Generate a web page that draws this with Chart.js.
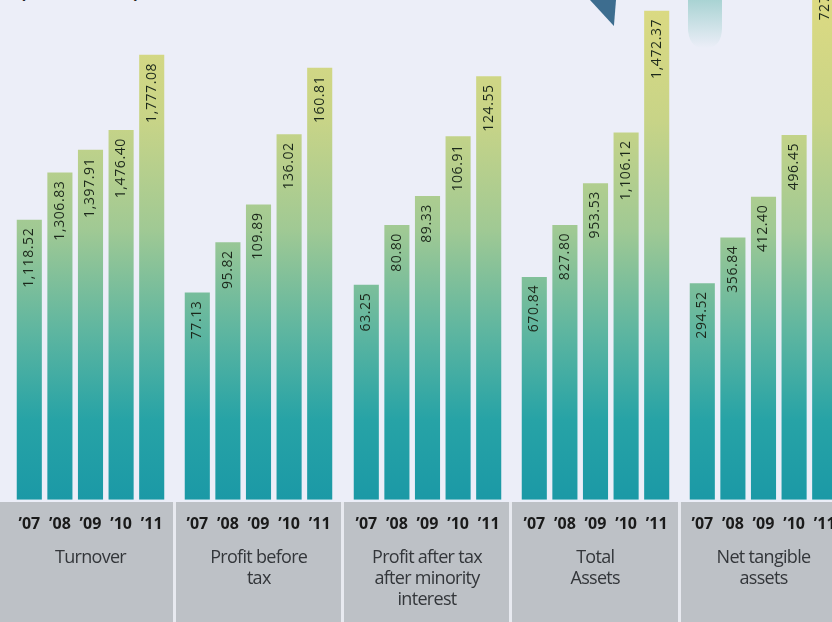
<!DOCTYPE html>
<html>
<head>
<meta charset="utf-8">
<script src="https://cdn.jsdelivr.net/npm/chart.js@4.4.1/dist/chart.umd.min.js"></script>
<style>
  html, body { margin: 0; padding: 0; }
  body { width: 832px; height: 622px; overflow: hidden; position: relative; background: #eceef8; font-family: "Open Sans", sans-serif; }
  .unit { position: absolute; left: 18px; top: -33px; font-size: 28px; color: #222; }
  .wedge { position: absolute; left: 590px; top: 0; width: 26px; height: 26px; background: #3d6d8f; clip-path: polygon(0 0, 100% 0, 92% 100%); }
  .blob { position: absolute; left: 688px; top: 0; width: 34px; height: 48px; background: linear-gradient(#a9d3d3, rgba(200,230,230,0)); border-radius: 0 0 40% 40%; }
  .band { position: absolute; left: 0; top: 502px; width: 832px; height: 120px; background: #bdc1c6; }
  .sep { position: absolute; top: 502px; width: 3px; height: 120px; background: #e8eaf0; }
  .box { position: absolute; top: 0; width: 153px; height: 622px; }
  .name { position: absolute; top: 546px; width: 170px; text-align: center; font-size: 18px; line-height: 21px; color: #33363a; letter-spacing: -0.7px; }
</style>
</head>
<body>
<div class="unit">(Rs crore)</div>
<div class="wedge"></div>
<div class="blob"></div>
<div class="band"></div>
<div class="sep" style="left:173px"></div>
<div class="sep" style="left:341px"></div>
<div class="sep" style="left:509px"></div>
<div class="sep" style="left:678px"></div>
<div id="groups"></div>

<script>
// data (Rs crore)
const years = ['\u201907', '\u201908', '\u201909', '\u201910', '\u201911'];
const groupNames = [
  ['Turnover'],
  ['Profit before', 'tax'],
  ['Profit after tax', 'after minority', 'interest'],
  ['Total', 'Assets'],
  ['Net tangible', 'assets']
];
const turnover = [1118.52, 1306.83, 1397.91, 1476.40, 1777.08];
const profitBeforeTax = [77.13, 95.82, 109.89, 136.02, 160.81];
const profitAfterTax = [63.25, 80.80, 89.33, 106.91, 124.55];
const totalAssets = [670.84, 827.80, 953.53, 1106.12, 1472.37];
const netTangibleAssets = [294.52, 356.84, 412.40, 496.45, 727.36];

// each panel has its own scale
const axisMax = [1996, 186, 147, 1505, 680];

const series = [turnover, profitBeforeTax, profitAfterTax, totalAssets, netTangibleAssets];

// gradient from teal at the bottom to yellow-green at the top
function barFill(context) {
  const chart = context.chart;
  const area = chart.chartArea;
  if (!area) return '#1b9aa6';
  const g = chart.ctx.createLinearGradient(0, area.bottom, 0, area.top);
  g.addColorStop(0, '#1b99a6');
  g.addColorStop(0.16, '#27a3a6');
  g.addColorStop(0.34, '#5fb6a0');
  g.addColorStop(0.54, '#a0c994');
  g.addColorStop(0.76, '#c8d487');
  g.addColorStop(1, '#dcda82');
  return g;
}

// rotated value labels at the top of each bar
const valueLabels = {
  id: 'valueLabels',
  afterDatasetsDraw(chart) {
    const ctx = chart.ctx;
    const meta = chart.getDatasetMeta(0);
    const values = chart.data.datasets[0].data;
    ctx.save();
    ctx.fillStyle = '#1c281b';
    ctx.font = '14px "Open Sans"';
    ctx.letterSpacing = '0.6px';
    ctx.textAlign = 'right';
    ctx.textBaseline = 'middle';
    meta.data.forEach((bar, i) => {
      const txt = values[i].toLocaleString('en-US', { minimumFractionDigits: 2, maximumFractionDigits: 2 });
      ctx.save();
      ctx.translate(bar.x, bar.y + 8);
      ctx.rotate(-Math.PI / 2);
      ctx.fillText(txt, 0, 0);
      ctx.restore();
    });
    ctx.restore();
  }
};

const holder = document.getElementById('groups');

series.forEach((values, i) => {
  const left = 14 + 168.25 * i;

  const box = document.createElement('div');
  box.className = 'box';
  box.style.left = left + 'px';
  const canvas = document.createElement('canvas');
  box.appendChild(canvas);
  holder.appendChild(box);

  const name = document.createElement('div');
  name.className = 'name';
  name.style.left = (left + 76.5 - 85) + 'px';
  name.innerHTML = groupNames[i].join('<br>');
  holder.appendChild(name);

  new Chart(canvas, {
    type: 'bar',
    data: {
      labels: years,
      datasets: [{
        data: values,
        backgroundColor: barFill,
        borderWidth: 0,
        barPercentage: 0.82,
        categoryPercentage: 1
      }]
    },
    options: {
      responsive: true,
      maintainAspectRatio: false,
      animation: false,
      layout: { padding: { top: 0, left: 0, right: 0, bottom: 88 } },
      plugins: {
        legend: { display: false },
        tooltip: { enabled: false }
      },
      scales: {
        y: {
          display: false,
          min: 0,
          max: axisMax[i]
        },
        x: {
          // tick marks not drawn, their length only pushes the labels down
          grid: { display: false, drawTicks: true, tickLength: 15 },
          border: { display: false },
          ticks: {
            padding: 0,
            color: '#1a1a1a',
            font: { family: 'Open Sans', size: 16, weight: '700' }
          }
        }
      }
    },
    plugins: [valueLabels]
  });
});
</script>
</body>
</html>
